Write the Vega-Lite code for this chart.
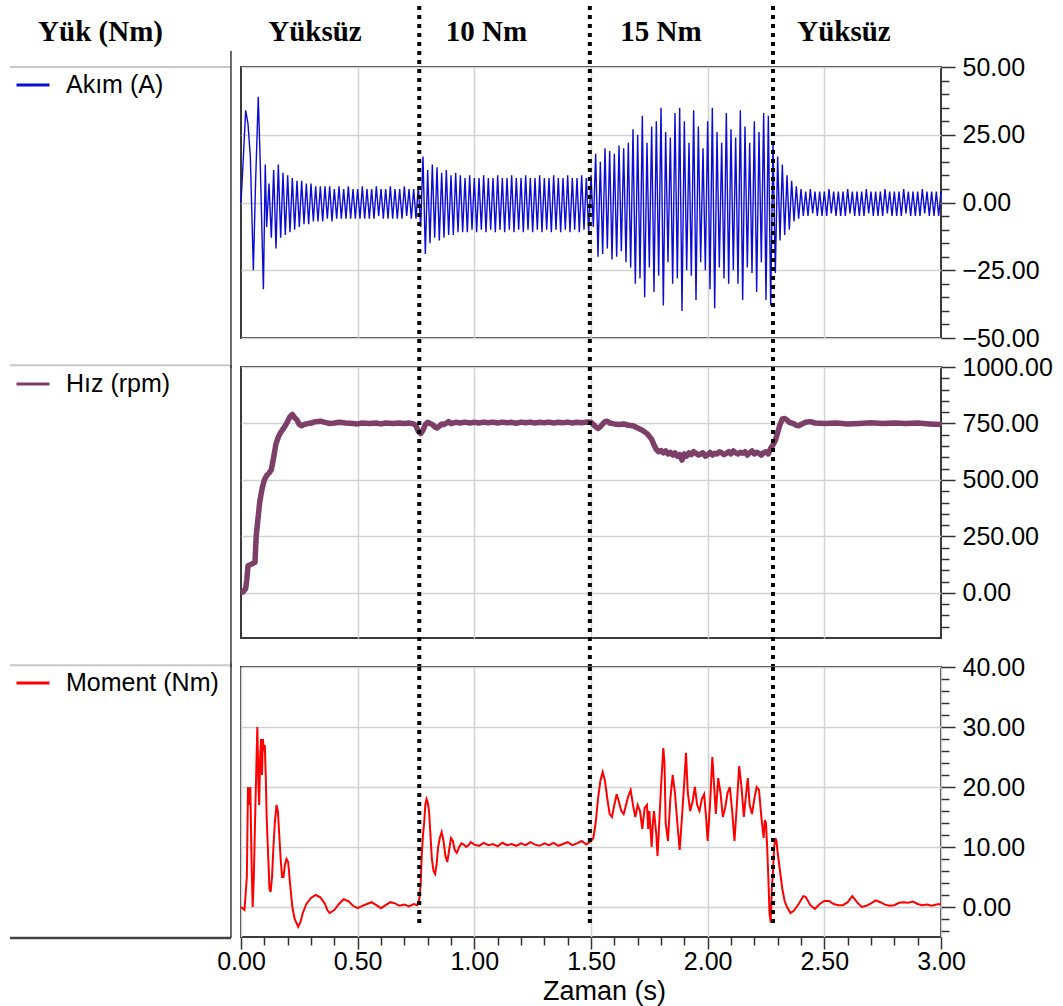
{
"$schema": "https://vega.github.io/schema/vega-lite/v6.json",
"background": "white",
"padding": {"left": 7, "top": 3, "right": 4, "bottom": 2},
"spacing": 29,
"bounds": "flush",
"config": {
  "view": {"stroke": "#3a3a3a", "strokeWidth": 2},
  "axis": {"labelFont": "Liberation Sans", "labelColor": "#000", "tickColor": "#333", "tickWidth": 1.5, "gridColor": "#d2d2d2", "gridWidth": 1.5, "domain": false, "labelFlush": false, "labelOverlap": false, "titleFont": "Liberation Sans", "titleFontWeight": "normal", "titleColor": "#000"},
  "legend": {"orient": "none", "title": null, "padding": 0, "symbolType": "stroke", "symbolSize": 1089, "symbolStrokeWidth": 3, "labelFont": "Liberation Sans", "labelFontSize": 25, "labelColor": "#000", "labelOffset": 15}
},
"resolve": {"scale": {"color": "independent"}},
"datasets": {
"akim": [{"t":0,"a":0},{"t":0.008,"a":13},{"t":0.02,"a":34},{"t":0.03,"a":29},{"t":0.04,"a":17},{"t":0.053,"a":-25},{"t":0.062,"a":6},{"t":0.074,"a":39},{"t":0.082,"a":16},{"t":0.096,"a":-32},{"t":0.104,"a":14},
{"t":0.11,"a":-9},{"t":0.12,"a":7},{"t":0.13,"a":-13},{"t":0.14,"a":12},{"t":0.15,"a":-17},{"t":0.16,"a":14},{"t":0.17,"a":-13},{"t":0.18,"a":11},{"t":0.19,"a":-12},{"t":0.2,"a":10},
{"t":0.21,"a":-11},{"t":0.22,"a":9},{"t":0.23,"a":-10},{"t":0.24,"a":8},{"t":0.25,"a":-9},{"t":0.26,"a":8},{"t":0.27,"a":-8},{"t":0.28,"a":7},{"t":0.29,"a":-8},{"t":0.3,"a":7},
{"t":0.31,"a":-7},{"t":0.32,"a":6},{"t":0.33,"a":-7},{"t":0.34,"a":6},{"t":0.35,"a":-7},{"t":0.36,"a":6},{"t":0.37,"a":-6},{"t":0.38,"a":6},{"t":0.39,"a":-7},{"t":0.4,"a":5},
{"t":0.41,"a":-6},{"t":0.42,"a":6},{"t":0.43,"a":-6},{"t":0.44,"a":5},{"t":0.45,"a":-6},{"t":0.46,"a":6},{"t":0.47,"a":-6},{"t":0.48,"a":5},{"t":0.49,"a":-6},{"t":0.5,"a":5},
{"t":0.51,"a":-6},{"t":0.52,"a":6},{"t":0.53,"a":-6},{"t":0.54,"a":5},{"t":0.55,"a":-6},{"t":0.56,"a":5},{"t":0.57,"a":-6},{"t":0.58,"a":6},{"t":0.59,"a":-5},{"t":0.6,"a":5},
{"t":0.61,"a":-6},{"t":0.62,"a":5},{"t":0.63,"a":-6},{"t":0.64,"a":6},{"t":0.65,"a":-6},{"t":0.66,"a":5},{"t":0.67,"a":-6},{"t":0.68,"a":5},{"t":0.69,"a":-6},{"t":0.7,"a":6},
{"t":0.71,"a":-5},{"t":0.72,"a":5},{"t":0.73,"a":-6},{"t":0.74,"a":5},{"t":0.75,"a":-6},{"t":0.76,"a":6},{"t":0.77,"a":-9},{"t":0.78,"a":17},{"t":0.79,"a":-19},{"t":0.8,"a":12},
{"t":0.81,"a":-15},{"t":0.82,"a":14},{"t":0.83,"a":-13},{"t":0.84,"a":13},{"t":0.85,"a":-14},{"t":0.86,"a":11},{"t":0.87,"a":-13},{"t":0.88,"a":12},{"t":0.89,"a":-12},{"t":0.9,"a":10},
{"t":0.91,"a":-12},{"t":0.92,"a":11},{"t":0.93,"a":-11},{"t":0.94,"a":10},{"t":0.95,"a":-11},{"t":0.96,"a":9},{"t":0.97,"a":-11},{"t":0.98,"a":10},{"t":0.99,"a":-10},{"t":1.0,"a":9},
{"t":1.01,"a":-11},{"t":1.02,"a":9},{"t":1.03,"a":-10},{"t":1.04,"a":10},{"t":1.05,"a":-11},{"t":1.06,"a":9},{"t":1.07,"a":-10},{"t":1.08,"a":9},{"t":1.09,"a":-11},{"t":1.1,"a":10},
{"t":1.11,"a":-10},{"t":1.12,"a":9},{"t":1.13,"a":-11},{"t":1.14,"a":9},{"t":1.15,"a":-10},{"t":1.16,"a":10},{"t":1.17,"a":-11},{"t":1.18,"a":9},{"t":1.19,"a":-10},{"t":1.2,"a":9},
{"t":1.21,"a":-11},{"t":1.22,"a":10},{"t":1.23,"a":-10},{"t":1.24,"a":9},{"t":1.25,"a":-11},{"t":1.26,"a":9},{"t":1.27,"a":-10},{"t":1.28,"a":10},{"t":1.29,"a":-11},{"t":1.3,"a":9},
{"t":1.31,"a":-10},{"t":1.32,"a":9},{"t":1.33,"a":-11},{"t":1.34,"a":10},{"t":1.35,"a":-10},{"t":1.36,"a":9},{"t":1.37,"a":-11},{"t":1.38,"a":9},{"t":1.39,"a":-10},{"t":1.4,"a":10},
{"t":1.41,"a":-11},{"t":1.42,"a":9},{"t":1.43,"a":-10},{"t":1.44,"a":9},{"t":1.45,"a":-11},{"t":1.46,"a":10},{"t":1.47,"a":-10},{"t":1.48,"a":9},{"t":1.49,"a":-11},{"t":1.5,"a":10},
{"t":1.51,"a":-9},{"t":1.52,"a":18},{"t":1.53,"a":-20},{"t":1.54,"a":15},{"t":1.55,"a":-19},{"t":1.56,"a":20},{"t":1.57,"a":-17},{"t":1.58,"a":19},{"t":1.59,"a":-21},{"t":1.6,"a":18},
{"t":1.61,"a":-20},{"t":1.62,"a":21},{"t":1.63,"a":-18},{"t":1.64,"a":20},{"t":1.65,"a":-22},{"t":1.66,"a":22},{"t":1.67,"a":-24},{"t":1.68,"a":27},{"t":1.69,"a":-30},{"t":1.7,"a":25},
{"t":1.71,"a":-28},{"t":1.72,"a":32},{"t":1.73,"a":-35},{"t":1.74,"a":22},{"t":1.75,"a":-24},{"t":1.76,"a":28},{"t":1.77,"a":-33},{"t":1.78,"a":30},{"t":1.79,"a":-27},{"t":1.8,"a":35},
{"t":1.81,"a":-38},{"t":1.82,"a":26},{"t":1.83,"a":-22},{"t":1.84,"a":24},{"t":1.85,"a":-30},{"t":1.86,"a":33},{"t":1.87,"a":-28},{"t":1.88,"a":35},{"t":1.89,"a":-40},{"t":1.9,"a":30},
{"t":1.91,"a":-25},{"t":1.92,"a":22},{"t":1.93,"a":-27},{"t":1.94,"a":34},{"t":1.95,"a":-36},{"t":1.96,"a":28},{"t":1.97,"a":-22},{"t":1.98,"a":20},{"t":1.99,"a":-25},{"t":2.0,"a":30},
{"t":2.01,"a":-32},{"t":2.02,"a":35},{"t":2.03,"a":-39},{"t":2.04,"a":26},{"t":2.05,"a":-24},{"t":2.06,"a":22},{"t":2.07,"a":-28},{"t":2.08,"a":33},{"t":2.09,"a":-30},{"t":2.1,"a":27},
{"t":2.11,"a":-25},{"t":2.12,"a":24},{"t":2.13,"a":-30},{"t":2.14,"a":34},{"t":2.15,"a":-36},{"t":2.16,"a":28},{"t":2.17,"a":-24},{"t":2.18,"a":22},{"t":2.19,"a":-26},{"t":2.2,"a":30},
{"t":2.21,"a":-33},{"t":2.22,"a":26},{"t":2.23,"a":-22},{"t":2.24,"a":33},{"t":2.25,"a":-36},{"t":2.26,"a":32},{"t":2.27,"a":-38},{"t":2.28,"a":22},{"t":2.29,"a":-26},{"t":2.3,"a":17},
{"t":2.31,"a":-14},{"t":2.32,"a":14},{"t":2.33,"a":-12},{"t":2.34,"a":10},{"t":2.35,"a":-10},{"t":2.36,"a":8},{"t":2.37,"a":-7},{"t":2.38,"a":6},{"t":2.39,"a":-6},{"t":2.4,"a":5},
{"t":2.41,"a":-5},{"t":2.42,"a":4},{"t":2.43,"a":-5},{"t":2.44,"a":5},{"t":2.45,"a":-4},{"t":2.46,"a":4},{"t":2.47,"a":-5},{"t":2.48,"a":4},{"t":2.49,"a":-5},{"t":2.5,"a":4},
{"t":2.51,"a":-5},{"t":2.52,"a":5},{"t":2.53,"a":-4},{"t":2.54,"a":4},{"t":2.55,"a":-5},{"t":2.56,"a":4},{"t":2.57,"a":-5},{"t":2.58,"a":4},{"t":2.59,"a":-5},{"t":2.6,"a":5},
{"t":2.61,"a":-4},{"t":2.62,"a":4},{"t":2.63,"a":-5},{"t":2.64,"a":4},{"t":2.65,"a":-5},{"t":2.66,"a":4},{"t":2.67,"a":-5},{"t":2.68,"a":5},{"t":2.69,"a":-4},{"t":2.7,"a":4},
{"t":2.71,"a":-5},{"t":2.72,"a":4},{"t":2.73,"a":-5},{"t":2.74,"a":4},{"t":2.75,"a":-5},{"t":2.76,"a":5},{"t":2.77,"a":-4},{"t":2.78,"a":4},{"t":2.79,"a":-5},{"t":2.8,"a":4},
{"t":2.81,"a":-5},{"t":2.82,"a":4},{"t":2.83,"a":-5},{"t":2.84,"a":5},{"t":2.85,"a":-4},{"t":2.86,"a":4},{"t":2.87,"a":-5},{"t":2.88,"a":4},{"t":2.89,"a":-5},{"t":2.9,"a":4},
{"t":2.91,"a":-5},{"t":2.92,"a":5},{"t":2.93,"a":-4},{"t":2.94,"a":4},{"t":2.95,"a":-5},{"t":2.96,"a":4},{"t":2.97,"a":-5},{"t":2.98,"a":4},{"t":2.99,"a":-5},{"t":3.0,"a":4}],
"hiz": [{"t":0,"s":0},{"t":0.01,"s":5},{"t":0.02,"s":20},{"t":0.025,"s":60},{"t":0.03,"s":120},{"t":0.04,"s":125},{"t":0.05,"s":130},{"t":0.06,"s":135},{"t":0.065,"s":250},{"t":0.07,"s":300},
{"t":0.08,"s":400},{"t":0.09,"s":460},{"t":0.1,"s":500},{"t":0.11,"s":520},{"t":0.12,"s":530},{"t":0.13,"s":545},{"t":0.14,"s":600},{"t":0.15,"s":660},{"t":0.16,"s":690},{"t":0.17,"s":710},
{"t":0.18,"s":725},{"t":0.19,"s":740},{"t":0.2,"s":760},{"t":0.21,"s":780},{"t":0.22,"s":790},{"t":0.23,"s":775},{"t":0.24,"s":765},{"t":0.25,"s":745},{"t":0.26,"s":740},{"t":0.27,"s":745},
{"t":0.28,"s":748},{"t":0.3,"s":752},{"t":0.32,"s":758},{"t":0.34,"s":760},{"t":0.36,"s":755},{"t":0.38,"s":750},{"t":0.4,"s":752},{"t":0.42,"s":755},{"t":0.45,"s":752},{"t":0.48,"s":750},
{"t":0.5,"s":748},{"t":0.52,"s":752},{"t":0.55,"s":750},{"t":0.58,"s":752},{"t":0.6,"s":748},{"t":0.62,"s":752},{"t":0.65,"s":750},{"t":0.68,"s":752},{"t":0.7,"s":750},{"t":0.72,"s":752},
{"t":0.74,"s":748},{"t":0.75,"s":740},{"t":0.76,"s":715},{"t":0.77,"s":705},{"t":0.78,"s":720},{"t":0.79,"s":745},{"t":0.8,"s":755},{"t":0.81,"s":750},{"t":0.82,"s":745},{"t":0.83,"s":735},
{"t":0.84,"s":730},{"t":0.85,"s":738},{"t":0.86,"s":748},{"t":0.87,"s":745},{"t":0.88,"s":752},{"t":0.89,"s":758},{"t":0.9,"s":750},{"t":0.92,"s":755},{"t":0.94,"s":752},{"t":0.96,"s":756},
{"t":0.98,"s":752},{"t":1.0,"s":755},{"t":1.02,"s":752},{"t":1.04,"s":756},{"t":1.06,"s":753},{"t":1.08,"s":756},{"t":1.1,"s":752},{"t":1.12,"s":756},{"t":1.14,"s":753},{"t":1.16,"s":755},
{"t":1.18,"s":751},{"t":1.2,"s":756},{"t":1.22,"s":753},{"t":1.24,"s":756},{"t":1.26,"s":752},{"t":1.28,"s":755},{"t":1.3,"s":753},{"t":1.32,"s":756},{"t":1.34,"s":752},{"t":1.36,"s":755},
{"t":1.38,"s":753},{"t":1.4,"s":756},{"t":1.42,"s":752},{"t":1.44,"s":755},{"t":1.46,"s":753},{"t":1.48,"s":756},{"t":1.5,"s":755},{"t":1.51,"s":745},{"t":1.52,"s":735},{"t":1.53,"s":728},
{"t":1.54,"s":735},{"t":1.55,"s":748},{"t":1.56,"s":758},{"t":1.57,"s":760},{"t":1.58,"s":752},{"t":1.6,"s":748},{"t":1.62,"s":745},{"t":1.64,"s":748},{"t":1.66,"s":742},{"t":1.68,"s":740},
{"t":1.7,"s":730},{"t":1.72,"s":720},{"t":1.74,"s":705},{"t":1.76,"s":680},{"t":1.77,"s":655},{"t":1.78,"s":635},{"t":1.79,"s":625},{"t":1.8,"s":630},{"t":1.81,"s":620},{"t":1.82,"s":628},
{"t":1.83,"s":615},{"t":1.84,"s":622},{"t":1.85,"s":610},{"t":1.86,"s":620},{"t":1.87,"s":605},{"t":1.88,"s":612},{"t":1.89,"s":588},{"t":1.9,"s":615},{"t":1.91,"s":605},{"t":1.92,"s":620},
{"t":1.93,"s":612},{"t":1.94,"s":625},{"t":1.95,"s":618},{"t":1.96,"s":610},{"t":1.97,"s":615},{"t":1.98,"s":620},{"t":1.99,"s":605},{"t":2.0,"s":612},{"t":2.01,"s":622},{"t":2.02,"s":610},
{"t":2.03,"s":618},{"t":2.04,"s":615},{"t":2.05,"s":625},{"t":2.06,"s":620},{"t":2.07,"s":612},{"t":2.08,"s":618},{"t":2.09,"s":625},{"t":2.1,"s":615},{"t":2.11,"s":628},{"t":2.12,"s":620},
{"t":2.13,"s":615},{"t":2.14,"s":622},{"t":2.15,"s":618},{"t":2.16,"s":625},{"t":2.17,"s":610},{"t":2.18,"s":620},{"t":2.19,"s":628},{"t":2.2,"s":615},{"t":2.21,"s":622},{"t":2.22,"s":618},
{"t":2.23,"s":610},{"t":2.24,"s":620},{"t":2.25,"s":625},{"t":2.26,"s":615},{"t":2.27,"s":640},{"t":2.28,"s":655},{"t":2.29,"s":675},{"t":2.3,"s":710},{"t":2.31,"s":745},{"t":2.32,"s":770},
{"t":2.33,"s":772},{"t":2.34,"s":765},{"t":2.35,"s":755},{"t":2.36,"s":752},{"t":2.37,"s":748},{"t":2.38,"s":742},{"t":2.39,"s":740},{"t":2.4,"s":745},{"t":2.42,"s":755},{"t":2.44,"s":758},
{"t":2.46,"s":752},{"t":2.5,"s":750},{"t":2.55,"s":752},{"t":2.6,"s":748},{"t":2.65,"s":750},{"t":2.7,"s":753},{"t":2.75,"s":750},{"t":2.8,"s":752},{"t":2.85,"s":750},{"t":2.9,"s":752},
{"t":2.95,"s":748},{"t":3.0,"s":745}],
"moment": [{"t":0,"m":0},{"t":0.015,"m":-0.5},{"t":0.025,"m":5},{"t":0.03,"m":20},{"t":0.035,"m":17},{"t":0.04,"m":20},{"t":0.045,"m":8},{"t":0.05,"m":0},{"t":0.055,"m":5},{"t":0.06,"m":14},
{"t":0.065,"m":22},{"t":0.07,"m":30},{"t":0.075,"m":20},{"t":0.078,"m":17},{"t":0.082,"m":25},{"t":0.086,"m":28},{"t":0.09,"m":22},{"t":0.094,"m":28},{"t":0.098,"m":26},{"t":0.102,"m":27},
{"t":0.106,"m":22},{"t":0.11,"m":15},{"t":0.117,"m":8},{"t":0.122,"m":3},{"t":0.127,"m":2.5},{"t":0.133,"m":5},{"t":0.139,"m":10},{"t":0.145,"m":14},{"t":0.152,"m":17},{"t":0.158,"m":16},
{"t":0.164,"m":12},{"t":0.17,"m":8},{"t":0.176,"m":5},{"t":0.182,"m":5},{"t":0.188,"m":7},{"t":0.195,"m":8},{"t":0.202,"m":7.5},{"t":0.21,"m":4},{"t":0.22,"m":0},{"t":0.23,"m":-2},
{"t":0.245,"m":-3.3},{"t":0.255,"m":-2.5},{"t":0.265,"m":-1},{"t":0.28,"m":0.5},{"t":0.3,"m":1.5},{"t":0.32,"m":2},{"t":0.34,"m":1.6},{"t":0.36,"m":0.5},{"t":0.37,"m":-0.5},{"t":0.38,"m":-1},
{"t":0.4,"m":-0.5},{"t":0.42,"m":0.5},{"t":0.44,"m":1.3},{"t":0.46,"m":1},{"t":0.48,"m":0.2},{"t":0.5,"m":-0.2},{"t":0.52,"m":0.2},{"t":0.54,"m":0.5},{"t":0.56,"m":0.8},{"t":0.58,"m":0.3},
{"t":0.6,"m":-0.2},{"t":0.62,"m":0.3},{"t":0.64,"m":0.8},{"t":0.66,"m":0.6},{"t":0.68,"m":0.2},{"t":0.7,"m":0.4},{"t":0.72,"m":0.1},{"t":0.74,"m":0.5},{"t":0.755,"m":0.3},{"t":0.765,"m":1.5},
{"t":0.77,"m":4},{"t":0.775,"m":9},{"t":0.78,"m":12},{"t":0.785,"m":14},{"t":0.79,"m":17},{"t":0.795,"m":18},{"t":0.8,"m":17.5},{"t":0.806,"m":16},{"t":0.812,"m":12},{"t":0.818,"m":8},
{"t":0.825,"m":6},{"t":0.832,"m":5.5},{"t":0.838,"m":7},{"t":0.845,"m":10},{"t":0.852,"m":11.5},{"t":0.86,"m":12.5},{"t":0.868,"m":11},{"t":0.876,"m":8.5},{"t":0.884,"m":7.5},{"t":0.892,"m":9.5},
{"t":0.9,"m":11.5},{"t":0.908,"m":11},{"t":0.916,"m":9.5},{"t":0.925,"m":9},{"t":0.935,"m":10},{"t":0.945,"m":10.6},{"t":0.955,"m":10.4},{"t":0.965,"m":10},{"t":0.975,"m":10.3},{"t":0.985,"m":10.8},
{"t":1.0,"m":10.4},{"t":1.02,"m":10.2},{"t":1.04,"m":10.7},{"t":1.06,"m":10.3},{"t":1.08,"m":10.5},{"t":1.1,"m":10.1},{"t":1.12,"m":10.7},{"t":1.14,"m":10.3},{"t":1.16,"m":10.5},{"t":1.18,"m":10.2},
{"t":1.2,"m":10.6},{"t":1.22,"m":10.3},{"t":1.24,"m":10.8},{"t":1.26,"m":10.4},{"t":1.28,"m":10.2},{"t":1.3,"m":10.6},{"t":1.32,"m":10.3},{"t":1.34,"m":10.7},{"t":1.36,"m":10.2},{"t":1.38,"m":10.5},
{"t":1.4,"m":10.8},{"t":1.42,"m":10.3},{"t":1.44,"m":10.6},{"t":1.46,"m":11},{"t":1.48,"m":10.4},{"t":1.5,"m":11},{"t":1.51,"m":11.5},{"t":1.52,"m":14},{"t":1.53,"m":18},{"t":1.54,"m":21},
{"t":1.55,"m":22.5},{"t":1.56,"m":21},{"t":1.57,"m":18},{"t":1.58,"m":15.5},{"t":1.59,"m":15},{"t":1.6,"m":17},{"t":1.61,"m":18.8},{"t":1.62,"m":17.5},{"t":1.63,"m":16},{"t":1.64,"m":15.5},
{"t":1.65,"m":17},{"t":1.66,"m":18.5},{"t":1.67,"m":19.5},{"t":1.68,"m":17},{"t":1.69,"m":15},{"t":1.7,"m":17},{"t":1.71,"m":16},{"t":1.72,"m":13},{"t":1.73,"m":16.5},{"t":1.74,"m":17},
{"t":1.745,"m":13},{"t":1.75,"m":16},{"t":1.76,"m":10},{"t":1.765,"m":14},{"t":1.77,"m":16},{"t":1.78,"m":12},{"t":1.785,"m":8.5},{"t":1.79,"m":12},{"t":1.8,"m":20},{"t":1.81,"m":26.5},
{"t":1.815,"m":24},{"t":1.82,"m":14},{"t":1.83,"m":11},{"t":1.84,"m":18},{"t":1.85,"m":22},{"t":1.86,"m":19},{"t":1.87,"m":14},{"t":1.88,"m":9.5},{"t":1.89,"m":15},{"t":1.9,"m":21},
{"t":1.907,"m":25.7},{"t":1.915,"m":19},{"t":1.925,"m":16},{"t":1.935,"m":17.5},{"t":1.945,"m":20},{"t":1.955,"m":17},{"t":1.965,"m":16},{"t":1.975,"m":18},{"t":1.985,"m":18.8},{"t":1.995,"m":14},
{"t":2.0,"m":11},{"t":2.01,"m":17},{"t":2.02,"m":25},{"t":2.028,"m":20},{"t":2.035,"m":15.5},{"t":2.045,"m":21.5},{"t":2.055,"m":19},{"t":2.065,"m":15},{"t":2.075,"m":16.5},{"t":2.085,"m":19},
{"t":2.095,"m":20},{"t":2.105,"m":16},{"t":2.115,"m":11},{"t":2.125,"m":17},{"t":2.135,"m":23.5},{"t":2.145,"m":20},{"t":2.155,"m":15},{"t":2.165,"m":19},{"t":2.172,"m":21.5},{"t":2.18,"m":17},
{"t":2.19,"m":15.5},{"t":2.2,"m":18},{"t":2.21,"m":20},{"t":2.22,"m":19.5},{"t":2.23,"m":15},{"t":2.24,"m":11.5},{"t":2.245,"m":14.5},{"t":2.25,"m":14},{"t":2.255,"m":10},{"t":2.26,"m":5},
{"t":2.265,"m":-1},{"t":2.27,"m":-2.6},{"t":2.275,"m":3},{"t":2.28,"m":6},{"t":2.285,"m":10},{"t":2.29,"m":11.5},{"t":2.295,"m":11},{"t":2.3,"m":9},{"t":2.31,"m":6},{"t":2.32,"m":3},
{"t":2.33,"m":1},{"t":2.34,"m":0},{"t":2.355,"m":-1},{"t":2.37,"m":-0.6},{"t":2.39,"m":0.5},{"t":2.41,"m":1.8},{"t":2.42,"m":1.7},{"t":2.44,"m":0.3},{"t":2.46,"m":-0.3},{"t":2.48,"m":0.5},
{"t":2.5,"m":1},{"t":2.52,"m":1},{"t":2.54,"m":0.5},{"t":2.56,"m":0.3},{"t":2.58,"m":0.3},{"t":2.6,"m":0.8},{"t":2.62,"m":1.8},{"t":2.64,"m":0.8},{"t":2.66,"m":0},{"t":2.68,"m":0.2},
{"t":2.7,"m":0.6},{"t":2.72,"m":1.1},{"t":2.74,"m":0.8},{"t":2.76,"m":0.4},{"t":2.78,"m":0.2},{"t":2.8,"m":0.3},{"t":2.82,"m":0.7},{"t":2.84,"m":0.8},{"t":2.86,"m":0.7},{"t":2.88,"m":0.9},
{"t":2.9,"m":0.5},{"t":2.92,"m":0.3},{"t":2.94,"m":0.4},{"t":2.96,"m":0.2},{"t":2.98,"m":0.4},{"t":3.0,"m":0.5}],
"dots": [{"t":0.764},{"t":1.495},{"t":2.28}],
"heads": [{"t":-0.602,"label":"Yük (Nm)"},{"t":0.317,"label":"Yüksüz"},{"t":1.052,"label":"10 Nm"},{"t":1.8,"label":"15 Nm"},{"t":2.584,"label":"Yüksüz"}]
},
"vconcat": [
{
 "width": 700, "height": 271,
 "resolve": {"axis": {"x": "independent", "y": "independent"}},
 "layer": [
  {"data": {"name": "akim"},
   "mark": {"type": "line", "strokeWidth": 1.4},
   "encoding": {
    "x": {"field": "t", "type": "quantitative", "scale": {"domain": [0, 3], "nice": false, "zero": false}, "axis": {"orient": "bottom", "values": [0.5, 1, 1.5, 2, 2.5], "grid": true, "labels": false, "ticks": false, "title": null}},
    "y": {"field": "a", "type": "quantitative", "scale": {"domain": [-50, 50], "nice": false, "zero": false}, "axis": {"orient": "right", "values": [-50, -25, 0, 25, 50], "format": ".2f", "grid": true, "tickSize": 14, "labelPadding": 7, "labelFontSize": 25, "title": null}},
    "color": {"datum": "Akım (A)", "type": "nominal", "scale": {"range": ["#0c0cd4"]}, "legend": {"legendX": -226, "legendY": 0}}
   }},
  {"data": {"name": "dots"},
   "mark": {"type": "rule", "color": "black", "strokeWidth": 4, "strokeDash": [4, 5]},
   "encoding": {
    "x": {"field": "t", "type": "quantitative", "axis": null},
    "y": {"datum": 72.5, "type": "quantitative", "axis": {"orient": "right", "values": [-45,-40,-35,-30,-20,-15,-10,-5,5,10,15,20,30,35,40,45], "labels": false, "grid": false, "tickSize": 8, "title": null}},
    "y2": {"datum": -61}
   }},
  {"data": {"name": "heads"},
   "mark": {"type": "text", "font": "Liberation Serif", "fontWeight": "bold", "fontSize": 29, "color": "#000", "baseline": "middle", "align": "center"},
   "encoding": {
    "x": {"field": "t", "type": "quantitative", "axis": null},
    "y": {"datum": 62.9, "type": "quantitative", "axis": null},
    "text": {"field": "label"}
   }},
  {"data": {"values": [{}]},
   "mark": {"type": "rule", "color": "#c8c8c8", "strokeWidth": 2},
   "encoding": {
    "x": {"datum": -0.99, "type": "quantitative", "axis": null},
    "x2": {"datum": -0.043},
    "y": {"datum": 50, "type": "quantitative", "axis": null}
   }},
  {"data": {"values": [{}]},
   "mark": {"type": "rule", "color": "#3a3a3a", "strokeWidth": 1.5},
   "encoding": {
    "x": {"datum": -0.043, "type": "quantitative", "axis": null},
    "y": {"datum": 55.9, "type": "quantitative", "axis": null},
    "y2": {"datum": -61}
   }}
 ]
},
{
 "width": 700, "height": 271,
 "resolve": {"axis": {"x": "independent", "y": "independent"}},
 "layer": [
  {"data": {"name": "hiz"},
   "mark": {"type": "line", "strokeWidth": 5.5, "strokeJoin": "round"},
   "encoding": {
    "x": {"field": "t", "type": "quantitative", "scale": {"domain": [0, 3], "nice": false, "zero": false}, "axis": {"orient": "bottom", "values": [0.5, 1, 1.5, 2, 2.5], "grid": true, "labels": false, "ticks": false, "title": null}},
    "y": {"field": "s", "type": "quantitative", "scale": {"domain": [-200, 1000], "nice": false, "zero": false}, "axis": {"orient": "right", "values": [0, 250, 500, 750, 1000], "format": ".2f", "grid": true, "tickSize": 14, "labelPadding": 7, "labelFontSize": 25, "title": null}},
    "color": {"datum": "Hız (rpm)", "type": "nominal", "scale": {"range": ["#7d3f68"]}, "legend": {"legendX": -226, "legendY": -1}}
   }},
  {"data": {"name": "dots"},
   "mark": {"type": "rule", "color": "black", "strokeWidth": 4, "strokeDash": [4, 5]},
   "encoding": {
    "x": {"field": "t", "type": "quantitative", "axis": null},
    "y": {"datum": 1000, "type": "quantitative", "axis": {"orient": "right", "values": [-150,-100,-50,50,100,150,200,300,350,400,450,550,600,650,700,800,850,900,950], "labels": false, "grid": false, "tickSize": 8, "title": null}},
    "y2": {"datum": -329}
   }},
  {"data": {"values": [{}]},
   "mark": {"type": "rule", "color": "#c8c8c8", "strokeWidth": 2},
   "encoding": {
    "x": {"datum": -0.99, "type": "quantitative", "axis": null},
    "x2": {"datum": -0.043},
    "y": {"datum": 1008, "type": "quantitative", "axis": null}
   }},
  {"data": {"values": [{}]},
   "mark": {"type": "rule", "color": "#3a3a3a", "strokeWidth": 1.5},
   "encoding": {
    "x": {"datum": -0.043, "type": "quantitative", "axis": null},
    "y": {"datum": 1010, "type": "quantitative", "axis": null},
    "y2": {"datum": -329}
   }}
 ]
},
{
 "width": 700, "height": 270,
 "resolve": {"axis": {"x": "independent", "y": "independent"}},
 "layer": [
  {"data": {"name": "moment"},
   "mark": {"type": "line", "strokeWidth": 2},
   "encoding": {
    "x": {"field": "t", "type": "quantitative", "scale": {"domain": [0, 3], "nice": false, "zero": false}, "axis": {"orient": "bottom", "values": [0, 0.5, 1, 1.5, 2, 2.5, 3], "format": ".2f", "grid": true, "tickSize": 12, "labelPadding": 0, "labelFontSize": 25, "title": "Zaman (s)", "titleFontSize": 27, "titlePadding": 4, "titleX": 363}},
    "y": {"field": "m", "type": "quantitative", "scale": {"domain": [-5, 40], "nice": false, "zero": false}, "axis": {"orient": "right", "values": [0, 10, 20, 30, 40], "format": ".2f", "grid": true, "tickSize": 14, "labelPadding": 7, "labelFontSize": 25, "title": null}},
    "color": {"datum": "Moment (Nm)", "type": "nominal", "scale": {"range": ["#ff0000"]}, "legend": {"legendX": -226, "legendY": -2}}
   }},
  {"data": {"name": "dots"},
   "mark": {"type": "rule", "color": "black", "strokeWidth": 4, "strokeDash": [4, 5]},
   "encoding": {
    "x": {"field": "t", "type": "quantitative", "axis": {"orient": "bottom", "values": [0.1,0.2,0.3,0.4,0.6,0.7,0.8,0.9,1.1,1.2,1.3,1.4,1.6,1.7,1.8,1.9,2.1,2.2,2.3,2.4,2.6,2.7,2.8,2.9], "labels": false, "grid": false, "tickSize": 8, "title": null}},
    "y": {"datum": 40, "type": "quantitative", "axis": {"orient": "right", "values": [-4,-2,2,4,6,8,12,14,16,18,22,24,26,28,32,34,36,38], "labels": false, "grid": false, "tickSize": 8, "title": null}},
    "y2": {"datum": -3}
   }},
  {"data": {"values": [{}]},
   "mark": {"type": "rule", "color": "#c8c8c8", "strokeWidth": 2},
   "encoding": {
    "x": {"datum": -0.99, "type": "quantitative", "axis": null},
    "x2": {"datum": -0.043},
    "y": {"datum": 40.3, "type": "quantitative", "axis": null}
   }},
  {"data": {"values": [{}]},
   "mark": {"type": "rule", "color": "#3a3a3a", "strokeWidth": 1.5},
   "encoding": {
    "x": {"datum": -0.043, "type": "quantitative", "axis": null},
    "y": {"datum": 40.6, "type": "quantitative", "axis": null},
    "y2": {"datum": -5.17}
   }},
  {"data": {"values": [{}]},
   "mark": {"type": "rule", "color": "#444444", "strokeWidth": 2.5},
   "encoding": {
    "x": {"datum": -0.99, "type": "quantitative", "axis": null},
    "x2": {"datum": -0.043},
    "y": {"datum": -5.17, "type": "quantitative", "axis": null}
   }}
 ]
}
]
}
